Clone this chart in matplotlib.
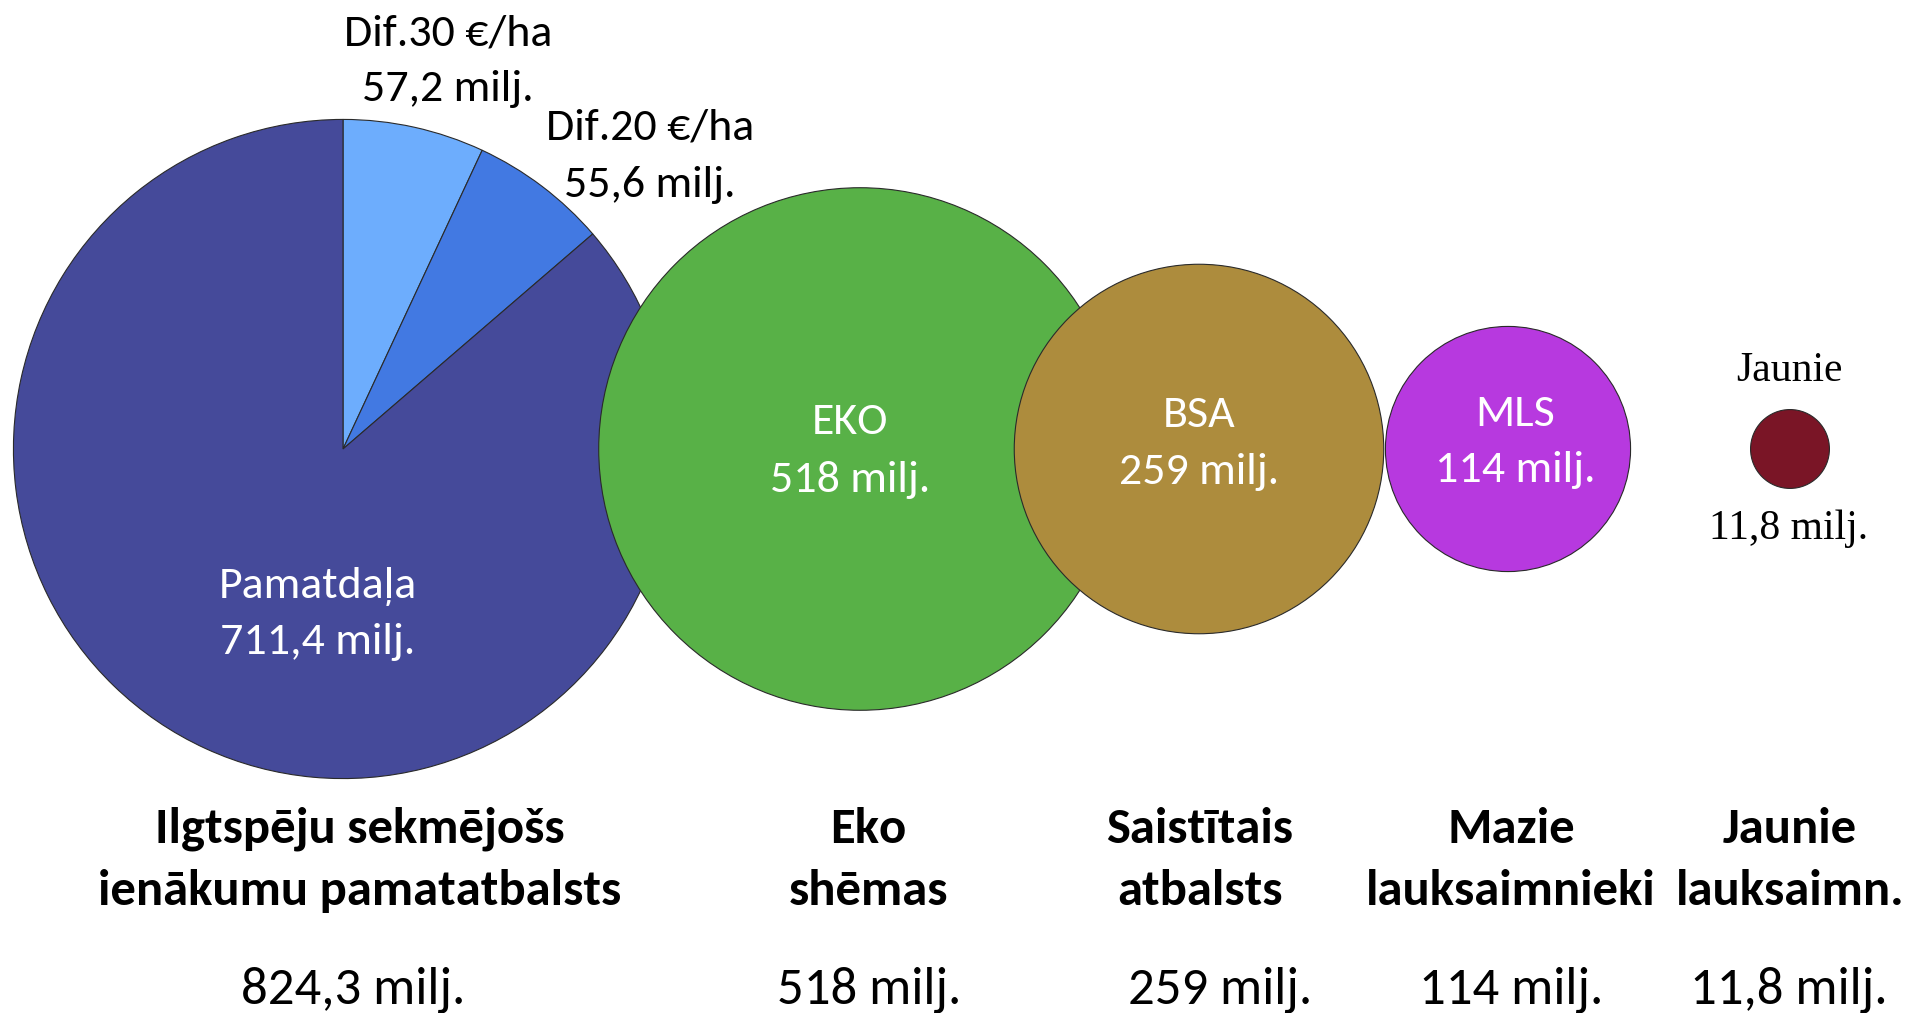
import numpy as np
import matplotlib
matplotlib.use("Agg")
import matplotlib.pyplot as plt
from matplotlib.patches import Circle

# ---- data ----
pie_labels = ["Dif.30 €/ha", "Dif.20 €/ha", "Pamatdaļa"]
pie_values = [57.2, 55.6, 711.4]
pie_colors = ["#6DADFD", "#4279E2", "#454A9A"]

bubble_short = ["EKO", "BSA", "MLS", "Jaunie"]
bubble_values = [518, 259, 114, 11.8]
bubble_colors = ["#58B147", "#AD8C3D", "#B739DF", "#7A1526"]

categories = ["Ilgtspēju sekmējošs\nienākumu pamatatbalsts", "Eko\nshēmas",
              "Saistītais\natbalsts", "Mazie\nlauksaimnieki", "Jaunie\nlauksaimn."]
category_totals = ["824,3 milj.", "518 milj.", "259 milj.", "114 milj.", "11,8 milj."]
pie_value_labels = ["57,2 milj.", "55,6 milj.", "711,4 milj."]
bubble_value_labels = ["518 milj.", "259 milj.", "114 milj.", "11,8 milj."]

# ---- layout ----
W, H = 1909, 1013
fig = plt.figure(figsize=(W / 100, H / 100), dpi=100)
ax = fig.add_axes([0, 0, 1, 1])
SANS = ["Carlito", "Lato", "DejaVu Sans"]
SERIF = ["Liberation Serif", "DejaVu Serif"]

k = 11.48  # px radius per sqrt(milj.)
cy = H - 449
pie_cx = 343
bubble_cx = [860, 1199, 1508, 1790]

pie_r = k * np.sqrt(sum(pie_values))
ax.pie(pie_values, colors=pie_colors, startangle=90, counterclock=False,
       radius=pie_r, center=(pie_cx, cy),
       wedgeprops=dict(edgecolor="#2a2a2a", linewidth=0.8))

for i, (v, c, x) in enumerate(zip(bubble_values, bubble_colors, bubble_cx)):
    circ = Circle((x, cy), k * np.sqrt(v), facecolor=c, edgecolor="#2a2a2a",
                  linewidth=0.8, zorder=3 + i)
    ax.add_patch(circ)

ax.set_xlim(0, W)
ax.set_ylim(0, H)
ax.set_aspect("equal")
ax.axis("off")

def t(x, y, s, size, color="black", weight="normal", family=SANS, z=20):
    ax.text(x, H - y, s, ha="center", va="center", fontsize=size, color=color,
            fontweight=weight, family=family, zorder=z, linespacing=1.0)

fs_in = 33
# pie labels
t(448, 33, pie_labels[0], fs_in)
t(448, 89, pie_value_labels[0], fs_in)
t(650, 127, pie_labels[1], fs_in)
t(650, 185, pie_value_labels[1], fs_in)
t(318, 586, pie_labels[2], fs_in, color="white")
t(318, 642, pie_value_labels[2], fs_in, color="white")

# bubble labels
inner_pos = [(850, 422, 480), (1199, 415, 472), (1515, 414, 470)]
for (x, y1, y2), s, vl in zip(inner_pos, bubble_short[:3], bubble_value_labels[:3]):
    t(x, y1, s, fs_in, color="white")
    t(x, y2, vl, fs_in, color="white")
t(1789, 371, bubble_short[3], 30, family=SERIF)
t(1789, 529, bubble_value_labels[3], 30, family=SERIF)

# bottom category labels
cat_x = [360, 868, 1200, 1511, 1790]
tot_x = [353, 869, 1220, 1511, 1789]
for x, c in zip(cat_x, categories):
    l1, l2 = c.split("\n")
    t(x, 829, l1, 36.5, weight="bold")
    t(x, 891, l2, 36.5, weight="bold")
for x, s in zip(tot_x, category_totals):
    t(x, 990, s, 38)

fig.savefig("out.png", dpi=100)
